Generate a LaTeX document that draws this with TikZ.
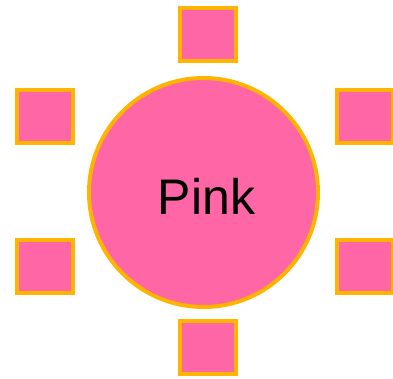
\documentclass[tikz,border=0pt]{standalone}
\usepackage{fontspec}
\setmainfont{Liberation Sans}
\definecolor{pinkfill}{HTML}{FF66A6}
\definecolor{goldline}{HTML}{FFB400}
\begin{document}
\begin{tikzpicture}[x=1pt,y=1pt,
  sq/.style={draw=goldline,fill=pinkfill,line width=4pt,minimum width=56pt,minimum height=53pt,inner sep=0pt,shape=rectangle},
  bigc/.style={draw=goldline,fill=pinkfill,line width=4pt,circle,minimum size=229pt,inner sep=0pt}]
\useasboundingbox (0,0) rectangle (393,379);
\node[bigc] (c) at (203.5,186.5) {};
\node[anchor=base,font=\fontsize{50}{60}\selectfont,inner sep=0pt] (t) at (206.5,164) {Pink};
\node[sq] (top) at (208,344.5) {};
\node[sq] (bot) at (208,31.5) {};
\node[sq] (lu) at (45,262.5) {};
\node[sq] (ll) at (45,112.5) {};
\node[sq] (ru) at (365,262.5) {};
\node[sq] (rl) at (365,112.5) {};
\end{tikzpicture}
\end{document}
